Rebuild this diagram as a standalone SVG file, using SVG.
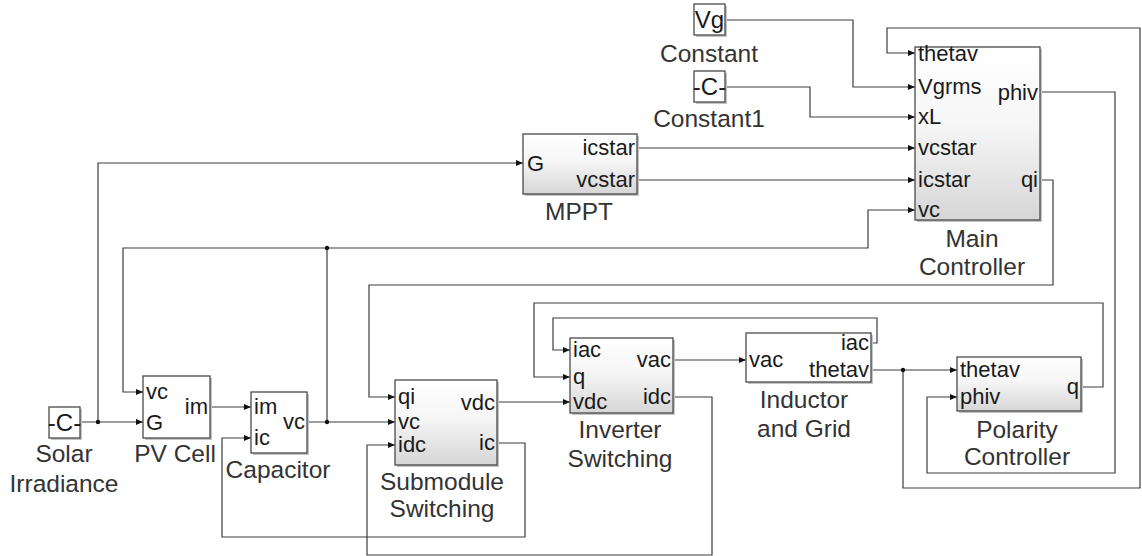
<svg xmlns="http://www.w3.org/2000/svg" width="1142" height="556" viewBox="0 0 1142 556">
<style>
.blk{stroke:#4a4a4a;stroke-width:1.3}
.g{fill:url(#grad)}
.w{fill:#fff}
.sh{fill:#c4c4c4}
.p{font-family:"Liberation Sans",Arial,sans-serif;font-size:22px;fill:#1a1a1a}
.pe{font-family:"Liberation Sans",Arial,sans-serif;font-size:22px;fill:#1a1a1a;text-anchor:end}
.lb{font-family:"Liberation Sans",Arial,sans-serif;font-size:24.5px;fill:#333;text-anchor:middle}
.k{font-family:"Liberation Sans",Arial,sans-serif;font-size:24px;fill:#1a1a1a;text-anchor:middle}
.c{fill:none;stroke:#3c3c3c;stroke-width:1.2}
.a{marker-end:url(#arr)}
.j{fill:#111}
</style>
<defs>
<linearGradient id="grad" x1="0" y1="0" x2="0" y2="1">
<stop offset="0" stop-color="#ffffff"/>
<stop offset="0.45" stop-color="#f6f6f6"/>
<stop offset="1" stop-color="#d6d6d6"/>
</linearGradient>
<marker id="arr" markerWidth="7" markerHeight="6" refX="7" refY="3" orient="auto" markerUnits="userSpaceOnUse">
<path d="M0,0 L7,3 L0,6 Z" fill="#111"/>
</marker>
</defs>
<rect width="1142" height="556" fill="#fff"/>

<g id="connectors">
<path class="c a" d="M725,20 H853 V87 H915"/>
<path class="c a" d="M725,87 H810 V117 H915"/>
<path class="c a" d="M637,148 H915"/>
<path class="c a" d="M637,180 H915"/>
<path class="c a" d="M80,422 H143"/>
<path class="c a" d="M98,422 V163 H523"/>
<path class="c a" d="M210,407 H251"/>
<path class="c a" d="M307,422 H395"/>
<path class="c" d="M327,422 V248"/>
<path class="c a" d="M327,248 H123 V392 H143"/>
<path class="c a" d="M327,248 H868 V210 H915"/>
<path class="c a" d="M1040,180 H1053 V285 H369 V397 H395"/>
<path class="c a" d="M1040,92 H1115 V473 H927 V397 H957"/>
<path class="c a" d="M871,370 H957"/>
<path class="c a" d="M903,370 V488 H1140 V28 H887 V53 H915"/>
<path class="c a" d="M1081,387 H1103 V303 H534 V377 H570"/>
<path class="c a" d="M871,343 H877 V318 H553 V350 H570"/>
<path class="c a" d="M673,360 H746"/>
<path class="c a" d="M497,402 H570"/>
<path class="c a" d="M673,397 H712 V555 H367 V445 H395"/>
<path class="c a" d="M497,443 H525 V537 H222 V438 H251"/>
<circle class="j" cx="98" cy="422" r="2.2"/>
<circle class="j" cx="327" cy="422" r="2.2"/>
<circle class="j" cx="327" cy="248" r="2.2"/>
<circle class="j" cx="903" cy="370" r="2.2"/>
</g>

<g id="constant">
<rect class="sh" x="696" y="6" width="31" height="31"/>
<rect class="blk w" x="694" y="4" width="31" height="31"/>
<text class="k" x="709.5" y="28">Vg</text>
<text class="lb" x="709" y="62">Constant</text>
</g>

<g id="constant1">
<rect class="sh" x="696" y="73" width="31" height="31"/>
<rect class="blk w" x="694" y="71" width="31" height="31"/>
<text class="k" x="709.5" y="95">-C-</text>
<text class="lb" x="709" y="127">Constant1</text>
</g>

<g id="mppt">
<rect class="sh" x="525" y="136" width="114" height="60"/>
<rect class="blk g" x="523" y="134" width="114" height="60"/>
<text class="p" x="527" y="171">G</text>
<text class="pe" x="635" y="155">icstar</text>
<text class="pe" x="635" y="187">vcstar</text>
<text class="lb" x="579" y="220">MPPT</text>
</g>

<g id="main-controller">
<rect class="sh" x="917" y="49" width="125" height="173"/>
<rect class="blk g" x="915" y="47" width="125" height="173"/>
<text class="p" x="918" y="61">thetav</text>
<text class="p" x="918" y="94">Vgrms</text>
<text class="p" x="918" y="124">xL</text>
<text class="p" x="918" y="155">vcstar</text>
<text class="p" x="918" y="187">icstar</text>
<text class="p" x="918" y="217">vc</text>
<text class="pe" x="1038" y="100">phiv</text>
<text class="pe" x="1038" y="187">qi</text>
<text class="lb" x="972" y="247">Main</text>
<text class="lb" x="972" y="275">Controller</text>
</g>

<g id="solar-irradiance">
<rect class="sh" x="51" y="409" width="31" height="31"/>
<rect class="blk w" x="49" y="407" width="31" height="31"/>
<text class="k" x="64.5" y="431">-C-</text>
<text class="lb" x="64" y="462">Solar</text>
<text class="lb" x="64" y="492">Irradiance</text>
</g>

<g id="pv-cell">
<rect class="sh" x="145" y="378" width="67" height="62"/>
<rect class="blk w" x="143" y="376" width="67" height="62"/>
<text class="p" x="146" y="399">vc</text>
<text class="p" x="146" y="430">G</text>
<text class="pe" x="208" y="414">im</text>
<text class="lb" x="175" y="462">PV Cell</text>
</g>

<g id="capacitor">
<rect class="sh" x="253" y="394" width="56" height="61"/>
<rect class="blk w" x="251" y="392" width="56" height="61"/>
<text class="p" x="254" y="414">im</text>
<text class="p" x="254" y="445">ic</text>
<text class="pe" x="305" y="429">vc</text>
<text class="lb" x="278" y="478">Capacitor</text>
</g>

<g id="submodule-switching">
<rect class="sh" x="397" y="382" width="102" height="85"/>
<rect class="blk g" x="395" y="380" width="102" height="85"/>
<text class="p" x="398" y="404">qi</text>
<text class="p" x="398" y="429">vc</text>
<text class="p" x="398" y="452">idc</text>
<text class="pe" x="495" y="410">vdc</text>
<text class="pe" x="495" y="450">ic</text>
<text class="lb" x="442" y="490">Submodule</text>
<text class="lb" x="442" y="517">Switching</text>
</g>

<g id="inverter-switching">
<rect class="sh" x="572" y="340" width="103" height="75"/>
<rect class="blk g" x="570" y="338" width="103" height="75"/>
<text class="p" x="573" y="357">iac</text>
<text class="p" x="573" y="384">q</text>
<text class="p" x="573" y="409">vdc</text>
<text class="pe" x="671" y="367">vac</text>
<text class="pe" x="671" y="404">idc</text>
<text class="lb" x="620" y="438">Inverter</text>
<text class="lb" x="620" y="467">Switching</text>
</g>

<g id="inductor-and-grid">
<rect class="sh" x="748" y="335" width="125" height="49"/>
<rect class="blk w" x="746" y="333" width="125" height="49"/>
<text class="p" x="749" y="367">vac</text>
<text class="pe" x="869" y="350">iac</text>
<text class="pe" x="869" y="377">thetav</text>
<text class="lb" x="804" y="408">Inductor</text>
<text class="lb" x="804" y="437">and Grid</text>
</g>

<g id="polarity-controller">
<rect class="sh" x="959" y="359" width="124" height="54"/>
<rect class="blk g" x="957" y="357" width="124" height="54"/>
<text class="p" x="960" y="377">thetav</text>
<text class="p" x="960" y="404">phiv</text>
<text class="pe" x="1079" y="394">q</text>
<text class="lb" x="1017" y="438">Polarity</text>
<text class="lb" x="1017" y="465">Controller</text>
</g>
</svg>
